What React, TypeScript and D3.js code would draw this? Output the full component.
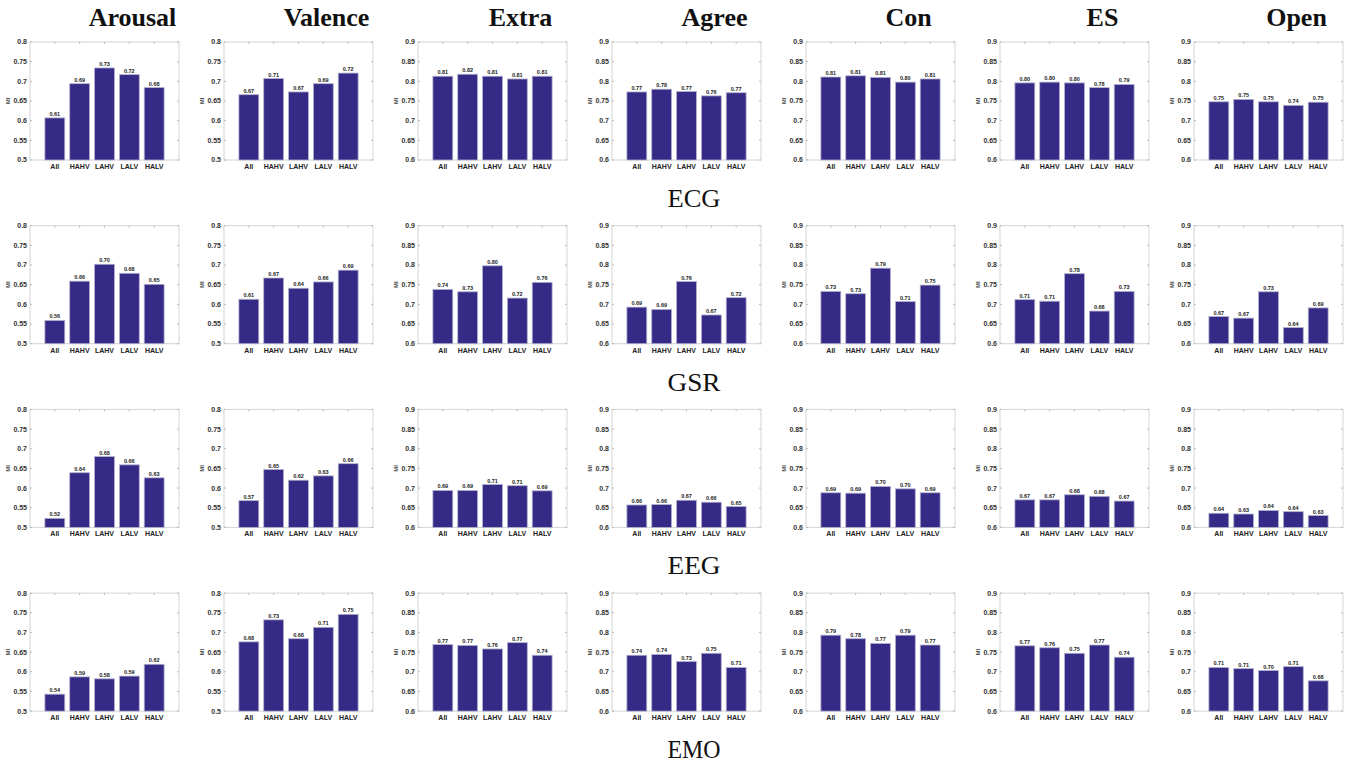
import { scaleLinear, range, format } from 'd3';

const categories = ['All', 'HAHV', 'LAHV', 'LALV', 'HALV'];
const traits = ['Arousal', 'Valence', 'Extra', 'Agree', 'Con', 'ES', 'Open'];
const modalities = ['ECG', 'GSR', 'EEG', 'EMO'];

// one row per trait, values in category order
const ecgValues = [
  [0.607, 0.694, 0.734, 0.717, 0.684],
  [0.666, 0.707, 0.673, 0.694, 0.721],
  [0.813, 0.818, 0.813, 0.806, 0.813],
  [0.773, 0.78, 0.774, 0.763, 0.771],
  [0.811, 0.814, 0.81, 0.798, 0.806],
  [0.796, 0.798, 0.796, 0.784, 0.792],
  [0.748, 0.754, 0.748, 0.739, 0.747],
];
const gsrValues = [
  [0.559, 0.659, 0.702, 0.679, 0.651],
  [0.613, 0.667, 0.641, 0.657, 0.687],
  [0.738, 0.732, 0.798, 0.716, 0.756],
  [0.693, 0.687, 0.758, 0.673, 0.717],
  [0.733, 0.727, 0.792, 0.707, 0.749],
  [0.712, 0.708, 0.778, 0.683, 0.733],
  [0.669, 0.665, 0.732, 0.641, 0.691],
];
const eegValues = [
  [0.523, 0.639, 0.68, 0.659, 0.626],
  [0.568, 0.647, 0.62, 0.631, 0.662],
  [0.694, 0.694, 0.709, 0.706, 0.693],
  [0.657, 0.658, 0.669, 0.664, 0.653],
  [0.688, 0.687, 0.704, 0.698, 0.688],
  [0.67, 0.67, 0.683, 0.679, 0.667],
  [0.636, 0.634, 0.643, 0.64, 0.63],
];
const emoValues = [
  [0.543, 0.587, 0.582, 0.589, 0.619],
  [0.676, 0.732, 0.684, 0.713, 0.746],
  [0.769, 0.767, 0.758, 0.774, 0.742],
  [0.742, 0.744, 0.726, 0.747, 0.711],
  [0.793, 0.784, 0.772, 0.793, 0.768],
  [0.766, 0.761, 0.747, 0.768, 0.737],
  [0.711, 0.708, 0.703, 0.713, 0.677],
];
const rows = [ecgValues, gsrValues, eegValues, emoValues];

const emotionTicks = [0.5, 0.55, 0.6, 0.65, 0.7, 0.75, 0.8];
const traitTicks = [0.6, 0.65, 0.7, 0.75, 0.8, 0.85, 0.9];

const W = 1353;
const H = 762;
const left0 = 30;
const colStep = 194;
const top0 = 42;
const rowStep = 183.7;
const pw = 149;
const ph = 118;

const barColor = '#352a86';
const boxColor = '#d4d4d4';
const sans = 'Liberation Sans, Arial, sans-serif';
const serif = 'Liberation Serif, Times New Roman, serif';

const fmtVal = format('.2f');
const fmtTick = (t: number) => String(+t.toFixed(2));

const Panel = ({ values, col }: { values: number[]; col: number }) => {
  const ticks = col < 2 ? emotionTicks : traitTicks;
  const y = scaleLinear()
    .domain([ticks[0], ticks[ticks.length - 1]])
    .range([ph, 0]);
  const x = scaleLinear().domain([0, 6]).range([0, pw]);
  const bw = x(0.8) - x(0);
  return (
    <g>
      <rect x={0} y={0} width={pw} height={ph} fill="white" stroke={boxColor} strokeWidth={1} />
      {ticks.map((t) => (
        <g key={t}>
          <line x1={0} x2={2} y1={y(t)} y2={y(t)} stroke="#bbb" />
          <line x1={pw - 2} x2={pw} y1={y(t)} y2={y(t)} stroke="#bbb" />
          <text
            x={-3}
            y={y(t)}
            dy="0.35em"
            textAnchor="end"
            fontSize={7}
            fontWeight="bold"
            fill="#333"
            fontFamily={sans}
          >
            {fmtTick(t)}
          </text>
        </g>
      ))}
      {range(1, 6).map((i) => (
        <g key={i}>
          <line x1={x(i)} x2={x(i)} y1={0} y2={2} stroke="#bbb" />
        </g>
      ))}
      {values.map((v, i) => (
        <g key={i}>
          <rect
            x={x(i + 1) - bw / 2}
            y={y(v)}
            width={bw}
            height={ph - y(v)}
            fill={barColor}
            stroke="#b3b0cf"
            strokeWidth={0.8}
          />
          <text
            x={x(i + 1)}
            y={y(v) - 2}
            textAnchor="middle"
            fontSize={5.5}
            fontWeight="bold"
            fill="#222"
            fontFamily={sans}
          >
            {fmtVal(v)}
          </text>
          <text
            x={x(i + 1)}
            y={ph + 9}
            textAnchor="middle"
            fontSize={7}
            fontWeight="bold"
            fill="#222"
            fontFamily={sans}
          >
            {categories[i]}
          </text>
        </g>
      ))}
      <text
        transform={`translate(${-20},${ph / 2}) rotate(-90)`}
        textAnchor="middle"
        fontSize={6}
        fontWeight="bold"
        fill="#444"
        fontFamily={sans}
      >
        MI
      </text>
    </g>
  );
};

export default function App() {
  return (
    <svg
      width={W}
      height={H}
      style={{ position: 'absolute', left: 0, top: 0, background: 'white' }}
    >
      {traits.map((t, c) => (
        <text
          key={t}
          x={left0 + c * colStep + pw / 2 + 28}
          y={26}
          textAnchor="middle"
          fontSize={26}
          fontWeight="bold"
          fontFamily={serif}
          fill="#111"
        >
          {t}
        </text>
      ))}
      {rows.map((row, r) => (
        <g key={r}>
          {row.map((vals, c) => (
            <g key={c} transform={`translate(${left0 + c * colStep},${top0 + r * rowStep})`}>
              <Panel values={vals} col={c} />
            </g>
          ))}
          <text
            x={694}
            y={top0 + r * rowStep + ph + 47}
            textAnchor="middle"
            fontSize={25}
            fontFamily={serif}
            fill="#111"
            textLength={53}
            lengthAdjust="spacingAndGlyphs"
          >
            {modalities[r]}
          </text>
        </g>
      ))}
    </svg>
  );
}
